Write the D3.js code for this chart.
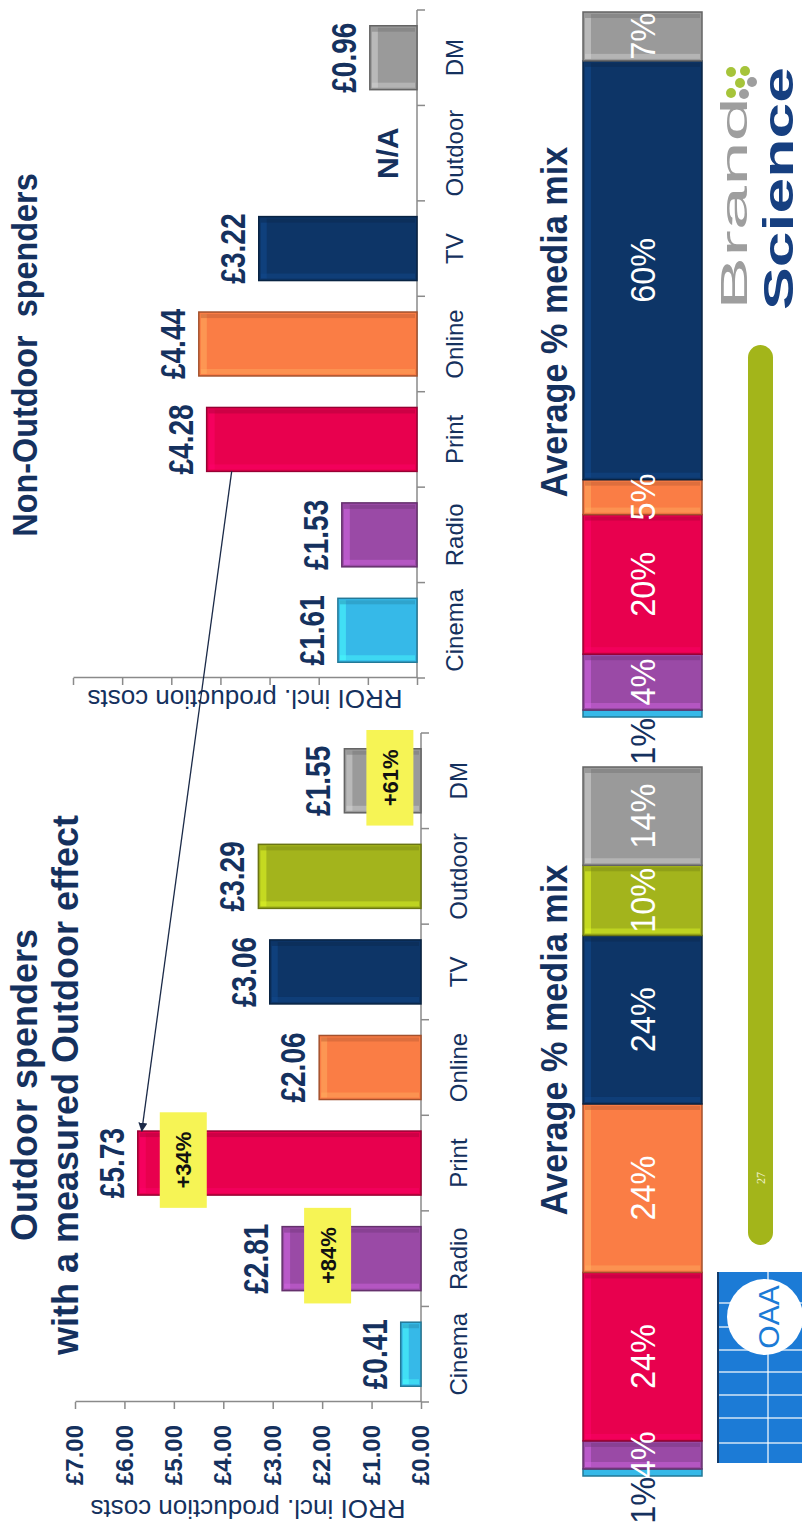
<!DOCTYPE html>
<html>
<head>
<meta charset="utf-8">
<script src="https://cdn.jsdelivr.net/npm/d3@7"></script>
<style>
  body { margin: 0; background: #fff; }
  svg { display: block; font-family: "Liberation Sans", Arial, sans-serif; }
</style>
</head>
<body>
<svg id="slide" width="802" height="1524"></svg>
<script>
// slide data
const categories = ["Cinema", "Radio", "Print", "Online", "TV", "Outdoor", "DM"];
const colors = ["#36b9e8", "#9a4aa6", "#e8004e", "#fa7d45", "#0d3567", "#a3b41c", "#9a9a9a"];
const outdoorRoi = [0.41, 2.81, 5.73, 2.06, 3.06, 3.29, 1.55];
const nonOutdoorRoi = [1.61, 1.53, 4.28, 4.44, 3.22, null, 0.96];
const uplifts = [null, "+84%", "+34%", null, null, null, "+61%"];
const valueTicks = [0, 1, 2, 3, 4, 5, 6, 7];
const outdoorMix = [1, 4, 24, 24, 24, 10, 14];
const outdoorMixLabels = ["1%", "4%", "24%", "24%", "24%", "10%", "14%"];
const nonOutdoorMix = [1, 8, 20, 5, 60, 0, 7];
const nonOutdoorMixLabels = ["1%", "4%", "20%", "5%", "60%", "", "7%"];

const NAVY = "#15315e";
const W = 1524;

const svg = d3.select("#slide");
const defs = svg.append("defs");
defs.append("marker")
  .attr("id", "arrow").attr("viewBox", "0 0 10 10")
  .attr("refX", 9).attr("refY", 5)
  .attr("markerWidth", 7).attr("markerHeight", 7)
  .attr("orient", "auto")
  .append("path").attr("d", "M0,0L10,5L0,10z").attr("fill", "#1b2a48");

// the slide is turned a quarter turn: work in slide coordinates
const slide = svg.append("g").attr("transform", `translate(0,${W}) rotate(-90)`);

function label(g, u, v, text, size, opts = {}) {
  const t = g.append("text")
    .attr("transform", `translate(${u},${v}) scale(${opts.sx || 1},1)`)
    .attr("text-anchor", opts.anchor || "middle")
    .attr("font-size", size + "px")
    .attr("font-weight", opts.weight || "normal")
    .attr("fill", opts.fill || NAVY)
    .text(text);
  if (opts.baseline) t.attr("dominant-baseline", opts.baseline);
  return t;
}

function bevel(g, x, y, w, h, color) {
  const c = d3.color(color);
  g.append("rect").attr("x", x).attr("y", y).attr("width", w).attr("height", h)
    .attr("fill", color).attr("stroke", c.darker(1.2)).attr("stroke-width", 1.5);
  if (w < 10 || h < 10) return;
  g.append("rect").attr("x", x + 2).attr("y", y + 2).attr("width", w - 4).attr("height", 6)
    .attr("fill", c.brighter(0.9)).attr("opacity", 0.55);
  g.append("rect").attr("x", x + 2).attr("y", y + 2).attr("width", 5).attr("height", h - 4)
    .attr("fill", c.brighter(0.9)).attr("opacity", 0.45);
  g.append("rect").attr("x", x + w - 6).attr("y", y + 2).attr("width", 4).attr("height", h - 4)
    .attr("fill", c.darker(0.8)).attr("opacity", 0.45);
}

function roiChart(values, u0, u1, v0, v7, showTicks) {
  const g = slide.append("g");
  const x = d3.scaleBand().domain(categories).range([u0, u1]).paddingInner(0.33).paddingOuter(0.165);
  const y = d3.scaleLinear().domain([0, 7]).range([v0, v7]);
  const bw = x.bandwidth();

  // value axis
  const axis = g.append("g").attr("transform", `translate(${u0},0)`)
    .call(d3.axisLeft(y).tickValues(valueTicks).tickSize(7).tickSizeOuter(0).tickPadding(16)
      .tickFormat(d => showTicks ? "£" + d.toFixed(2) : ""));
  axis.selectAll("path, line").attr("stroke", "#8a8a8a").attr("stroke-width", 1.5);
  axis.selectAll("text").attr("font-size", "24px").attr("font-weight", "bold")
    .attr("fill", NAVY).attr("font-family", "Liberation Sans, Arial, sans-serif");

  // category axis, ticks between categories
  g.append("line").attr("x1", u0).attr("x2", u1).attr("y1", v0).attr("y2", v0)
    .attr("stroke", "#8a8a8a").attr("stroke-width", 1.5);
  d3.range(categories.length + 1).forEach(i => {
    const u = u0 + i * x.step();
    g.append("line").attr("x1", u).attr("x2", u).attr("y1", v0).attr("y2", v0 + 8)
      .attr("stroke", "#8a8a8a").attr("stroke-width", 1.5);
  });
  categories.forEach(c => label(g, x(c) + bw / 2, v0 + 46, c, 24));

  categories.forEach((c, i) => {
    const val = values[i];
    if (val === null) {
      label(g, x(c) + bw / 2, v0 - 19, "N/A", 30, { weight: "bold" });
      return;
    }
    bevel(g, x(c), y(val), bw, v0 - y(val), colors[i]);
    label(g, x(c) + bw / 2, y(val) - 14, "£" + val.toFixed(2), 36, { weight: "bold", sx: 0.78 });
  });

  // axis title
  g.append("text")
    .attr("transform", `translate(${u0 - (showTicks ? 98 : 12)},${(v0 + v7) / 2}) rotate(-90)`)
    .attr("text-anchor", "middle").attr("font-size", "26px").attr("fill", NAVY)
    .text("RROI incl. production costs");

  return { g, x, y };
}

const left = roiChart(outdoorRoi, 122, 791, 421, 75, true);
const right = roiChart(nonOutdoorRoi, 846, 1514, 417, 73, false);

// uplift call-outs
categories.forEach((c, i) => {
  if (!uplifts[i]) return;
  const uc = left.x(c) + left.x.bandwidth() / 2 + 3;
  const v = left.y(outdoorRoi[i]) + 22;
  left.g.append("rect").attr("x", uc - left.x.step() / 2).attr("y", v)
    .attr("width", left.x.step()).attr("height", 47).attr("fill", "#f6f455");
  label(left.g, uc, v + 24, uplifts[i], 22, { weight: "bold", fill: "#111", baseline: "central" });
});

// arrow Print -> Print
slide.append("line")
  .attr("x1", right.x("Print")).attr("y1", right.y(4.28) + 25)
  .attr("x2", left.x("Print") + left.x.bandwidth()).attr("y2", left.y(5.73) + 4)
  .attr("stroke", "#1b2a48").attr("stroke-width", 1.3)
  .attr("marker-end", "url(#arrow)");

// titles
label(slide, 439, 37, "Outdoor spenders", 36, { weight: "bold" });
label(slide, 439, 78, "with a measured Outdoor effect", 36, { weight: "bold" });
label(slide, 1169, 37, "Non-Outdoor  spenders", 36, { weight: "bold", sx: 0.9 }).attr("xml:space", "preserve");

// media mix stacks
function mixStack(values, labels, u0, u1, titleU) {
  const g = slide.append("g");
  const s = d3.scaleLinear().domain([0, d3.sum(values)]).range([u0, u1]);
  const v0 = 583, v1 = 702;
  let cum = 0;
  values.forEach((val, i) => {
    if (val > 0) {
      bevel(g, s(cum), v0, s(cum + val) - s(cum), v1 - v0, colors[i]);
    }
    cum += val;
  });
  cum = 0;
  values.forEach((val, i) => {
    if (val > 0) {
      if (val < 3) {
        label(g, s(cum) - 1, (v0 + v1) / 2, labels[i], 36, { anchor: "end", baseline: "central", sx: 0.9 });
      } else {
        label(g, (s(cum) + s(cum + val)) / 2, (v0 + v1) / 2, labels[i], 36,
          { fill: "#fff", baseline: "central", sx: 0.9 });
      }
    }
    cum += val;
  });
  label(g, titleU, 567, "Average % media mix", 36, { weight: "bold", sx: 0.95 });
}
mixStack(outdoorMix, outdoorMixLabels, 48, 757, 484);
mixStack(nonOutdoorMix, nonOutdoorMixLabels, 807, 1512, 1202);

// slide furniture: page bar
slide.append("rect").attr("x", 279).attr("y", 748).attr("width", 900).attr("height", 25)
  .attr("rx", 12.5).attr("fill", "#a3b51a");
slide.append("text").attr("x", 346).attr("y", 765).attr("text-anchor", "middle")
  .attr("font-size", "12px").attr("font-family", "Liberation Serif, serif").attr("fill", "#eef0c8")
  .text("27");

// OAA logo
const oaa = slide.append("g");
oaa.append("rect").attr("x", 61).attr("y", 717).attr("width", 191).attr("height", 90).attr("fill", "#1c7bd6");
[81, 106, 129, 152, 174, 197, 221].forEach(u => {
  oaa.append("line").attr("x1", u).attr("x2", u).attr("y1", 719).attr("y2", 802)
    .attr("stroke", "#fff").attr("stroke-width", 1.5).attr("opacity", 0.8);
});
oaa.append("line").attr("x1", 61).attr("x2", 252).attr("y1", 768).attr("y2", 768)
  .attr("stroke", "#fff").attr("stroke-width", 1.5).attr("opacity", 0.8);
oaa.append("line").attr("x1", 61).attr("x2", 252).attr("y1", 718).attr("y2", 718)
  .attr("stroke", "#123a6a").attr("stroke-width", 2);
oaa.append("circle").attr("cx", 207).attr("cy", 765).attr("r", 38).attr("fill", "#fff");
label(oaa, 207, 779, "OAA", 30, { fill: "#1c7bd6" });

// Brand Science logo
const bs = slide.append("g");
bs.append("text").attr("x", 1214).attr("y", 747).attr("font-size", "36px").attr("fill", "#9e9e9e")
  .attr("textLength", 213).attr("lengthAdjust", "spacingAndGlyphs").text("Brand");
bs.append("text").attr("x", 1214).attr("y", 793).attr("font-size", "42px").attr("font-weight", "bold")
  .attr("fill", "#163f80").attr("textLength", 243).attr("lengthAdjust", "spacingAndGlyphs").text("Science");
[[1452, 731, "#a6c43a"], [1441, 740, "#a6c43a"], [1453, 745, "#a6c43a"],
 [1431, 731, "#a6c43a"], [1442, 752, "#9e9e9e"], [1430, 744, "#9e9e9e"]].forEach(([u, v, c]) => {
  bs.append("circle").attr("cx", u).attr("cy", v).attr("r", 5).attr("fill", c);
});
</script>
</body>
</html>
